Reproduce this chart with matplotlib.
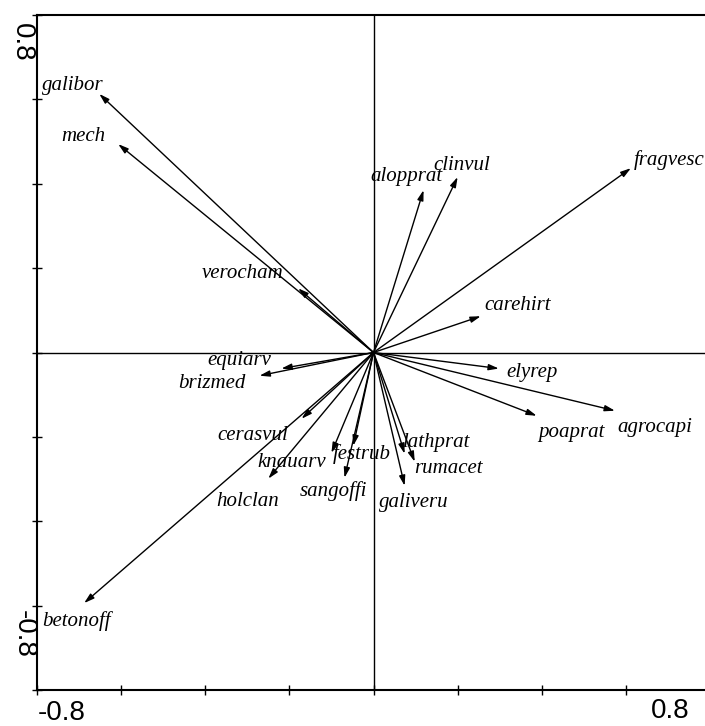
import matplotlib
matplotlib.use("Agg")
import matplotlib.pyplot as plt
import numpy as np

# ---- data: species arrow tips (axis 1, axis 2) ----
species = ["galibor", "mech", "verocham", "equiarv", "brizmed", "cerasvul",
           "knauarv", "festrub", "holclan", "sangoffi", "galiveru", "lathprat",
           "rumacet", "poaprat", "agrocapi", "elyrep", "carehirt", "fragvesc",
           "clinvul", "alopprat", "betonoff"]
axis1 = [-0.652, -0.607, -0.179, -0.219, -0.271, -0.171,
         -0.100, -0.048, -0.250, -0.069, 0.074, 0.074,
         0.098, 0.388, 0.574, 0.298, 0.255, 0.612,
         0.200, 0.119, -0.688]
axis2 = [0.613, 0.494, 0.152, -0.038, -0.055, -0.157,
         -0.238, -0.221, -0.299, -0.297, -0.316, -0.240,
         -0.259, -0.150, -0.138, -0.038, 0.086, 0.437,
         0.416, 0.385, -0.594]

# ---- layout: label centres (data coords) ----
label_x = [-0.714, -0.690, -0.312, -0.319, -0.383, -0.286,
           -0.195, -0.029, -0.300, -0.095, 0.095, 0.150,
           0.179, 0.471, 0.669, 0.376, 0.343, 0.702,
           0.210, 0.079, -0.705]
label_y = [0.634, 0.511, 0.188, -0.019, -0.074, -0.197,
           -0.261, -0.240, -0.352, -0.328, -0.356, -0.214,
           -0.276, -0.190, -0.178, -0.048, 0.112, 0.456,
           0.444, 0.416, -0.637]

W, H = 705, 726
fig = plt.figure(figsize=(W / 100, H / 100), dpi=100)
# axes from x=37..710 px, y=15..690 px (top origin)
ax = fig.add_axes([37 / W, (H - 690) / H, 673 / W, 675 / H])
ax.set_xlim(-0.8, 0.8)
ax.set_ylim(-0.8, 0.8)

ax.axhline(0, color="black", lw=1.0, zorder=1)
ax.axvline(0, color="black", lw=1.0, zorder=1)

for sx, sy in zip(axis1, axis2):
    ax.annotate("", xy=(sx, sy), xytext=(0, 0),
                arrowprops=dict(arrowstyle="-|>,head_length=0.6,head_width=0.18",
                                mutation_scale=10, color="black", lw=1.0,
                                shrinkA=0, shrinkB=0), zorder=2)

for name, lx, ly in zip(species, label_x, label_y):
    ax.text(lx, ly, name, fontsize=15, family="Liberation Serif",
            style="italic", ha="center", va="center", zorder=3)

ticks = np.round(np.arange(-0.8, 0.81, 0.2), 2)
ax.set_xticks(ticks)
ax.set_yticks(ticks)
ax.set_xticklabels([])
ax.set_yticklabels([])
ax.tick_params(direction="inout", length=7, width=1.0, colors="black")
for s in ["left", "bottom", "top"]:
    ax.spines[s].set_linewidth(1.5)
ax.spines["right"].set_visible(False)

tfont = dict(fontsize=20, family="Liberation Sans")
fig.text(38 / W, 1 - 713 / H, "-0.8", ha="left", va="center", **tfont)
fig.text(690 / W, 1 - 711 / H, "0.8", ha="right", va="center", **tfont)
fig.text(22 / W, 1 - 42 / H, "0.8", ha="center", va="center", rotation=270, **tfont)
fig.text(24 / W, 1 - 634 / H, "-0.8", ha="center", va="center", rotation=270, **tfont)

fig.savefig("out.png", dpi=100)
